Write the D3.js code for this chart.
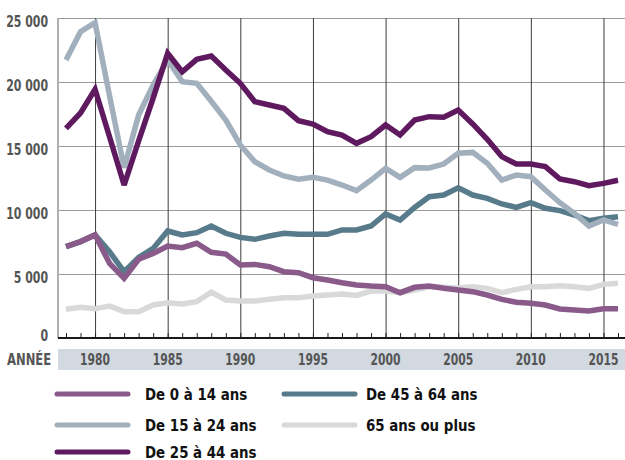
<!DOCTYPE html>
<html lang="fr">
<head>
<meta charset="UTF-8">
<title>Population par groupe d'âge</title>
<script src="https://d3js.org/d3.v7.min.js"></script>
<style>
    body { margin: 0; background: #fff; }
    .tick-label {
        font-family: "DejaVu Sans Condensed", "Roboto", sans-serif;
        font-weight: bold;
        fill: #555;
    }
    .legend-label {
        font-family: "DejaVu Sans Condensed", "Roboto", sans-serif;
        font-weight: bold;
        font-size: 16px;
        fill: #111;
    }
</style>
</head>
<body>
<svg width="625" height="460"></svg>
<script>
    // years on the x axis
    var years = [1978, 1979, 1980, 1981, 1982, 1983, 1984, 1985, 1986, 1987,
        1988, 1989, 1990, 1991, 1992, 1993, 1994, 1995, 1996, 1997,
        1998, 1999, 2000, 2001, 2002, 2003, 2004, 2005, 2006, 2007,
        2008, 2009, 2010, 2011, 2012, 2013, 2014, 2015, 2016];
    var majorYears = [1980, 1985, 1990, 1995, 2000, 2005, 2010, 2015];
    var yTicks = [0, 5000, 10000, 15000, 20000, 25000];

    // values
    var age0_14 = [7140, 7530, 8050, 5830, 4660, 6150, 6610, 7190, 7060, 7400,
        6700, 6560, 5700, 5750, 5570, 5180, 5100, 4710, 4530, 4320,
        4140, 4060, 4010, 3540, 3960, 4060, 3880, 3750, 3620, 3360,
        3020, 2790, 2710, 2580, 2270, 2190, 2110, 2290, 2290];
    var age15_24 = [21720, 23930, 24640, 18900, 13300, 17420, 19770, 21720, 20030, 19900,
        18500, 17030, 15080, 13770, 13125, 12660, 12400, 12550, 12340, 11950,
        11510, 12340, 13250, 12550, 13310, 13280, 13590, 14430, 14500, 13650,
        12340, 12730, 12600, 11560, 10570, 9740, 8750, 9220, 8880];
    var age25_44 = [16380, 17580, 19430, 15700, 11950, 15400, 18750, 22240, 20800, 21770,
        22030, 20940, 19900, 18460, 18200, 17940, 16980, 16720, 16120, 15860,
        15210, 15730, 16640, 15860, 17030, 17290, 17240, 17810, 16720, 15520,
        14170, 13590, 13590, 13390, 12420, 12210, 11900, 12080, 12320];
    var age45_64 = [7140, 7530, 8050, 6740, 5180, 6300, 7000, 8360, 8050, 8230,
        8750, 8180, 7860, 7710, 7970, 8180, 8100, 8100, 8100, 8440,
        8440, 8750, 9690, 9220, 10200, 11040, 11170, 11740, 11170, 10910,
        10470, 10210, 10570, 10130, 9950, 9610, 9170, 9350, 9480];
    var age65 = [2240, 2400, 2290, 2500, 2060, 2060, 2580, 2760, 2660, 2840,
        3580, 2970, 2890, 2890, 3020, 3150, 3150, 3280, 3360, 3440,
        3330, 3670, 3670, 3540, 3750, 4000, 3960, 3900, 4010, 3880,
        3540, 3800, 4010, 4010, 4090, 4010, 3880, 4190, 4270];

    // drawing order: bottom first
    var series = [
        {name: "65 ans ou plus", values: age65, color: "#d9d9d9"},
        {name: "De 45 à 64 ans", values: age45_64, color: "#587b8b"},
        {name: "De 15 à 24 ans", values: age15_24, color: "#a2afbc"},
        {name: "De 0 à 14 ans", values: age0_14, color: "#895a8a"},
        {name: "De 25 à 44 ans", values: age25_44, color: "#5f1a5f"}
    ];
    var legendOrder = [
        ["De 0 à 14 ans", "De 15 à 24 ans", "De 25 à 44 ans"],
        ["De 45 à 64 ans", "65 ans ou plus"]
    ];

    var plotLeft = 58, plotRight = 625, plotTop = 18, plotBottom = 338;

    var svg = d3.select("svg");

    var x = d3.scaleLinear().domain([1978, 2016]).range([66, 618]);
    var y = d3.scaleLinear().domain([0, 25000]).range([plotBottom, plotTop]);

    // text squeezed horizontally (the original font is a condensed one)
    function squeezed(parent, px, py, sx, txt, cls, size, anchor) {
        var g = parent.append("g")
            .attr("transform", "translate(" + px + "," + py + ") scale(" + sx + ",1)");
        return g.append("text")
            .attr("class", cls)
            .attr("dy", "0.36em")
            .attr("text-anchor", anchor || "start")
            .style("font-size", size + "px")
            .text(txt);
    }

    // horizontal grid
    svg.append("g")
        .attr("transform", "translate(" + plotLeft + ",0)")
        .call(d3.axisRight(y).tickValues(yTicks.slice(1)).tickSize(plotRight - plotLeft).tickFormat(""))
        .call(function(g) {
            g.select(".domain").remove();
            g.selectAll("line").attr("stroke", "#9a9a9a").attr("stroke-width", 1.2);
        });

    // vertical grid at every 5 years
    svg.append("g")
        .attr("transform", "translate(0," + plotBottom + ")")
        .call(d3.axisBottom(x).tickValues(majorYears).tickSize(-(plotBottom - plotTop)).tickFormat(""))
        .call(function(g) {
            g.select(".domain").remove();
            g.selectAll("line").attr("stroke", "#3c3c3c").attr("stroke-width", 1);
        });

    // small yearly ticks
    svg.append("g")
        .attr("transform", "translate(0," + plotBottom + ")")
        .call(d3.axisBottom(x).tickValues(years).tickSize(-5).tickFormat(""))
        .call(function(g) {
            g.select(".domain").remove();
            g.selectAll("line").attr("stroke", "#222").attr("stroke-width", 1);
        });

    // left axis line
    svg.append("line")
        .attr("x1", plotLeft).attr("x2", plotLeft)
        .attr("y1", plotTop).attr("y2", plotBottom)
        .attr("stroke", "#b0b0b0").attr("stroke-width", 2);

    // lines
    var line = d3.line()
        .x(function(d, i) { return x(years[i]); })
        .y(function(d) { return y(d); });

    svg.selectAll(".serie")
        .data(series)
        .enter().append("path")
        .attr("class", "serie")
        .attr("d", function(d) { return line(d.values); })
        .attr("fill", "none")
        .attr("stroke", function(d) { return d.color; })
        .attr("stroke-width", 5.5)
        .attr("stroke-linejoin", "miter")
        .attr("stroke-miterlimit", 3);

    // bottom axis line
    svg.append("line")
        .attr("x1", plotLeft).attr("x2", plotRight)
        .attr("y1", plotBottom).attr("y2", plotBottom)
        .attr("stroke", "#1a1a1a").attr("stroke-width", 2);

    // y tick labels
    yTicks.forEach(function(v) {
        squeezed(svg, 48, y(v) + (v === 0 ? -3 : 3), 0.76,
            d3.format(",")(v).replace(/,/g, " "), "tick-label", 16, "end");
    });

    // year band
    svg.append("rect")
        .attr("x", plotLeft).attr("y", 349)
        .attr("width", plotRight - plotLeft).attr("height", 21)
        .attr("fill", "#d2d9e1");

    squeezed(svg, 7, 359.5, 0.86, "ANNÉE", "tick-label", 15, "start");

    majorYears.forEach(function(yr) {
        squeezed(svg, x(yr), 359.5, 0.8, yr, "tick-label", 15, "middle");
    });

    // legend
    var colX = [{line: 55, text: 145}, {line: 282, text: 366}];
    var rowY = [394, 425, 452];
    var colorOf = {};
    series.forEach(function(s) { colorOf[s.name] = s.color; });

    legendOrder.forEach(function(col, c) {
        col.forEach(function(name, r) {
            svg.append("line")
                .attr("x1", colX[c].line + 2).attr("x2", colX[c].line + 73)
                .attr("y1", rowY[r]).attr("y2", rowY[r])
                .attr("stroke", colorOf[name])
                .attr("stroke-width", 5)
                .attr("stroke-linecap", "round");
            squeezed(svg, colX[c].text, rowY[r], 0.93, name, "legend-label", 16, "start");
        });
    });
</script>
</body>
</html>
